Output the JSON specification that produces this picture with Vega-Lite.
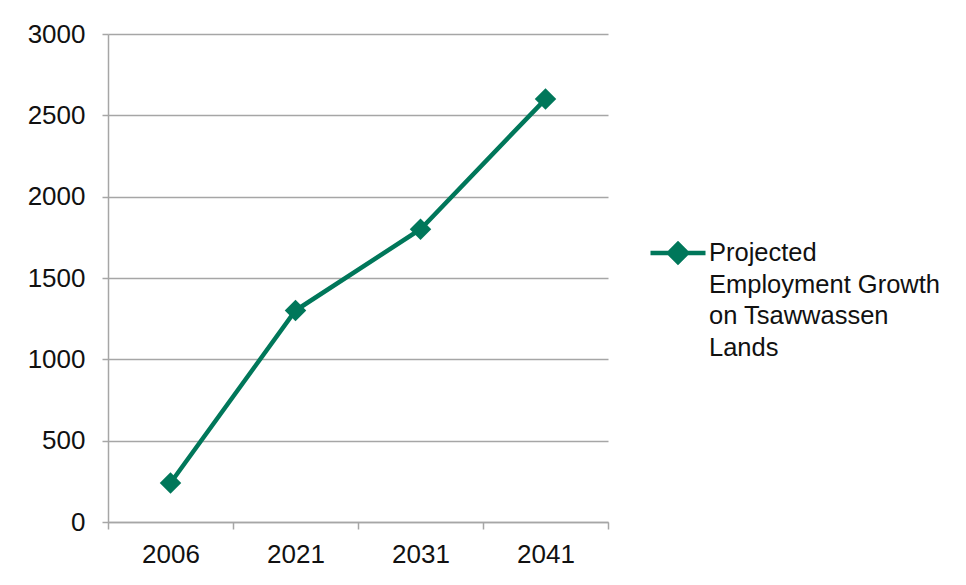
{
  "$schema": "https://vega.github.io/schema/vega-lite/v6.json",
  "width": 500,
  "height": 488,
  "autosize": {"type": "none"},
  "padding": {"left": 108, "top": 34, "right": 358, "bottom": 63},
  "background": "white",
  "config": {"view": {"stroke": null}, "font": "Liberation Sans"},
  "data": {
    "values": [
      {"year": "2006", "jobs": 240, "series": "Projected Employment Growth on Tsawwassen Lands"},
      {"year": "2021", "jobs": 1300, "series": "Projected Employment Growth on Tsawwassen Lands"},
      {"year": "2031", "jobs": 1800, "series": "Projected Employment Growth on Tsawwassen Lands"},
      {"year": "2041", "jobs": 2600, "series": "Projected Employment Growth on Tsawwassen Lands"}
    ]
  },
  "encoding": {
    "x": {
      "field": "year",
      "type": "ordinal",
      "scale": {"type": "band", "paddingInner": 0, "paddingOuter": 0},
      "axis": {
        "title": null,
        "labelAngle": 0,
        "labelFontSize": 26,
        "labelColor": "#111111",
        "domainColor": "#a6a6a6",
        "domainWidth": 1.5,
        "tickColor": "#a6a6a6",
        "tickWidth": 1.5,
        "tickBand": "extent",
        "tickSize": 7,
        "labelPadding": 12,
        "grid": false
      }
    },
    "y": {
      "field": "jobs",
      "type": "quantitative",
      "scale": {"domain": [0, 3000], "nice": false},
      "axis": {
        "title": null,
        "values": [0, 500, 1000, 1500, 2000, 2500, 3000],
        "format": "d",
        "labelFontSize": 26,
        "labelColor": "#111111",
        "tickColor": "#a6a6a6",
        "tickWidth": 1.5,
        "domainColor": "#a6a6a6",
        "domainWidth": 1.5,
        "gridColor": "#a6a6a6",
        "gridWidth": 1.5,
        "tickSize": 6,
        "labelPadding": 17
      }
    },
    "color": {
      "field": "series",
      "type": "nominal",
      "scale": {"range": ["#00775A"]},
      "legend": {
        "title": null,
        "orient": "none",
        "legendX": 540,
        "legendY": 189,
        "padding": 0,
        "labelFontSize": 25.5,
        "labelColor": "#111111",
        "labelLimit": 400,
        "labelOffset": 1,
        "labelBaseline": "top",
        "labelExpr": "['Projected', 'Employment Growth', 'on Tsawwassen', 'Lands']",
        "encode": {
          "symbols": {
            "update": {
              "shape": {"value": "M-1,0L1,0M-0.33,0L0,-0.33L0.33,0L0,0.33Z"},
              "size": {"value": 3025},
              "fill": {"value": "#00775A"},
              "stroke": {"value": "#00775A"},
              "strokeWidth": {"value": 4.5},
              "opacity": {"value": 1}
            }
          },
          "labels": {
            "update": {"lineHeight": {"value": 31.5}, "dy": {"value": -12}}
          }
        }
      }
    }
  },
  "layer": [
    {"mark": {"type": "line", "strokeWidth": 4.5}},
    {"mark": {"type": "point", "shape": "diamond", "filled": true, "size": 460, "opacity": 1}}
  ]
}
